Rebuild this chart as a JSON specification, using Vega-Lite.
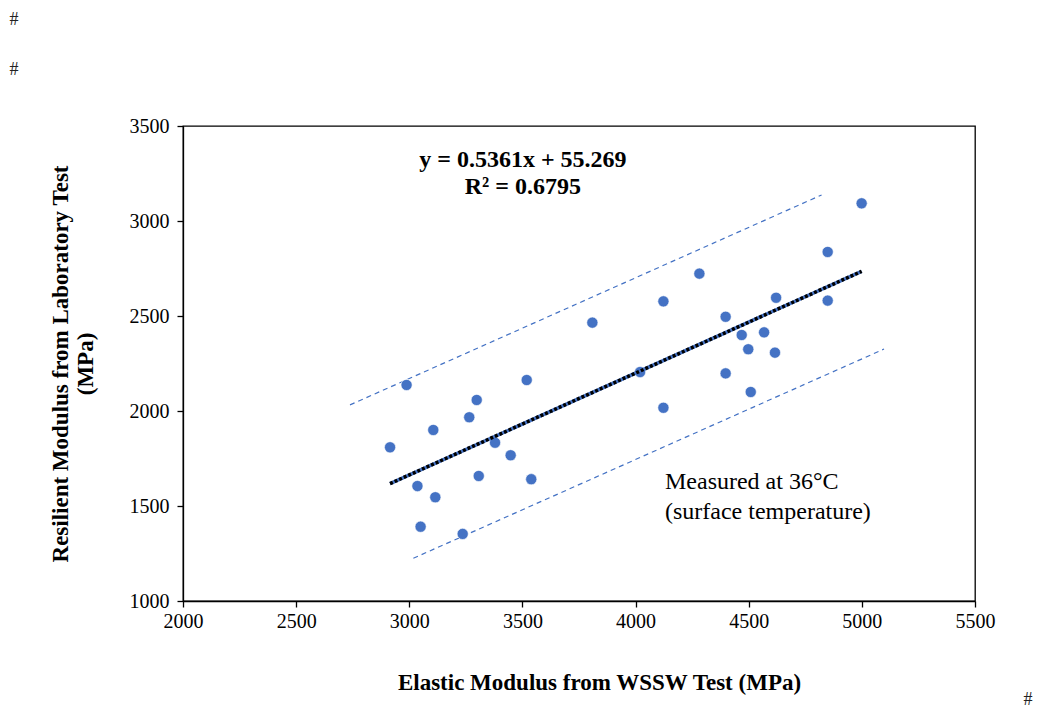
{
  "$schema": "https://vega.github.io/schema/vega-lite/v6.json",
  "autosize": "none",
  "width": 792,
  "height": 475,
  "padding": {"left": 183, "top": 126, "right": 63, "bottom": 116},
  "background": "white",
  "config": {
    "view": {"stroke": "black", "strokeWidth": 1.3},
    "font": "Liberation Serif",
    "axis": {
      "grid": false,
      "domainColor": "black",
      "domainWidth": 1.3,
      "tickColor": "black",
      "tickWidth": 1.3,
      "tickSize": 6,
      "labelFont": "Liberation Serif",
      "labelFontSize": 20,
      "labelColor": "black",
      "labelFlush": false,
      "format": "d",
      "titleFont": "Liberation Serif",
      "titleFontSize": 23,
      "titleFontWeight": "bold",
      "titleColor": "black"
    }
  },
  "datasets": {
    "points": [
      {"E": 2915, "M": 1809}, {"E": 2988, "M": 2137}, {"E": 3036, "M": 1605}, {"E": 3050, "M": 1391},
      {"E": 3106, "M": 1900}, {"E": 3115, "M": 1546}, {"E": 3236, "M": 1353}, {"E": 3265, "M": 1967},
      {"E": 3298, "M": 2058}, {"E": 3307, "M": 1658}, {"E": 3379, "M": 1833}, {"E": 3448, "M": 1767},
      {"E": 3519, "M": 2163}, {"E": 3539, "M": 1641}, {"E": 3809, "M": 2465}, {"E": 4020, "M": 2205},
      {"E": 4123, "M": 2577}, {"E": 4123, "M": 2017}, {"E": 4282, "M": 2723}, {"E": 4398, "M": 2496},
      {"E": 4398, "M": 2198}, {"E": 4469, "M": 2400}, {"E": 4498, "M": 2325}, {"E": 4509, "M": 2100},
      {"E": 4568, "M": 2414}, {"E": 4616, "M": 2307}, {"E": 4621, "M": 2596}, {"E": 4849, "M": 2837},
      {"E": 4849, "M": 2581}, {"E": 4999, "M": 3093}
    ],
    "fit": [{"E": 2915, "M": 1618}, {"E": 4999, "M": 2735}],
    "bands": [
      {"band": "upper", "E": 2738, "M": 2032}, {"band": "upper", "E": 4822, "M": 3137},
      {"band": "lower", "E": 3018, "M": 1225}, {"band": "lower", "E": 5098, "M": 2326}
    ],
    "labels": [
      {"E": 3502, "M": 3321, "t": "y = 0.5361x + 55.269", "kind": "eq"},
      {"E": 3502, "M": 3179, "t": "R² = 0.6795", "kind": "eq"},
      {"E": 4130, "M": 1626, "t": "Measured at 36°C", "kind": "note"},
      {"E": 4130, "M": 1468, "t": "(surface temperature)", "kind": "note"},
      {"E": 1253, "M": 4058, "t": "#", "kind": "hash"},
      {"E": 1253, "M": 3795, "t": "#", "kind": "hash"},
      {"E": 5734, "M": 479, "t": "#", "kind": "hash"}
    ]
  },
  "encoding": {
    "x": {
      "field": "E", "type": "quantitative",
      "scale": {"domain": [2000, 5500], "nice": false, "zero": false},
      "axis": {"values": [2000, 2500, 3000, 3500, 4000, 4500, 5000, 5500], "title": "Elastic Modulus from WSSW Test (MPa)", "titlePadding": 40, "titleX": 416, "labelPadding": 4}
    },
    "y": {
      "field": "M", "type": "quantitative",
      "scale": {"domain": [1000, 3500], "nice": false, "zero": false},
      "axis": {"values": [1000, 1500, 2000, 2500, 3000, 3500], "title": ["Resilient Modulus from Laboratory Test", "(MPa)"], "titlePadding": 32, "titleLineHeight": 25, "labelPadding": 8}
    }
  },
  "layer": [
    {
      "data": {"name": "bands"},
      "mark": {"type": "line", "color": "#4472C4", "strokeWidth": 1.2, "strokeDash": [5, 4], "clip": false},
      "encoding": {"detail": {"field": "band"}}
    },
    {
      "data": {"name": "points"},
      "mark": {"type": "point", "filled": true, "shape": "circle", "size": 125, "color": "#4472C4", "opacity": 1, "stroke": "white", "strokeWidth": 0.6}
    },
    {
      "data": {"name": "fit"},
      "mark": {"type": "line", "color": "#4472C4", "strokeWidth": 3.5}
    },
    {
      "data": {"name": "fit"},
      "mark": {"type": "line", "color": "black", "strokeWidth": 3.5, "strokeDash": [3, 2]}
    },
    {
      "data": {"name": "labels"},
      "transform": [{"filter": "datum.kind == 'eq'"}],
      "mark": {"type": "text", "font": "Liberation Serif", "fontSize": 24, "fontWeight": "bold", "color": "black", "align": "center", "baseline": "middle", "clip": false},
      "encoding": {"text": {"field": "t"}}
    },
    {
      "data": {"name": "labels"},
      "transform": [{"filter": "datum.kind == 'note'"}],
      "mark": {"type": "text", "font": "Liberation Serif", "fontSize": 24, "color": "black", "align": "left", "baseline": "middle", "clip": false},
      "encoding": {"text": {"field": "t"}}
    },
    {
      "data": {"name": "labels"},
      "transform": [{"filter": "datum.kind == 'hash'"}],
      "mark": {"type": "text", "font": "Liberation Serif", "fontSize": 18, "color": "#222222", "align": "center", "baseline": "middle", "clip": false},
      "encoding": {"text": {"field": "t"}}
    }
  ]
}
